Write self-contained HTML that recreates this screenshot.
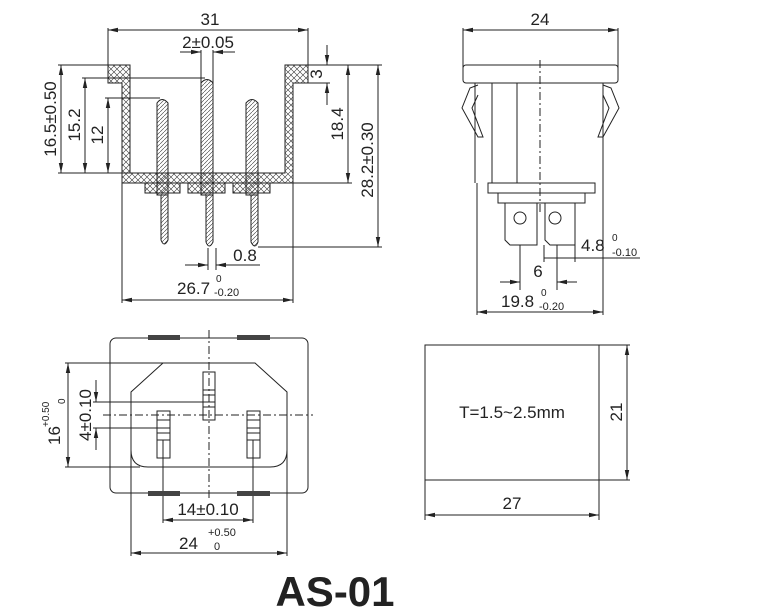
<!DOCTYPE html>
<html><head><meta charset="utf-8"><style>
html,body{margin:0;padding:0;background:#fff;}
svg{display:block;font-family:"Liberation Sans",Arial,sans-serif;}
</style></head><body>
<svg width="771" height="615" viewBox="0 0 771 615" xmlns="http://www.w3.org/2000/svg">
<defs>
<pattern id="xh" width="6" height="6" patternUnits="userSpaceOnUse">
<path d="M0 0L6 6M6 0L0 6" stroke="#333" stroke-width="0.6"/></pattern>
<pattern id="dh" width="4" height="4" patternUnits="userSpaceOnUse">
<path d="M0 4L4 0" stroke="#333" stroke-width="0.6"/></pattern>
<marker id="a" markerWidth="10" markerHeight="6" refX="10" refY="3" orient="auto-start-reverse" markerUnits="userSpaceOnUse">
<path d="M0 0.8L10 3L0 5.2Z" fill="#222"/></marker>
</defs>
<g stroke="#222" stroke-width="1" fill="none">
<line x1="108" y1="28" x2="108" y2="80"/><line x1="308" y1="28" x2="308" y2="80"/>
<line x1="108" y1="30" x2="308" y2="30" marker-start="url(#a)" marker-end="url(#a)"/>
<line x1="201" y1="50" x2="201" y2="180"/><line x1="213" y1="50" x2="213" y2="180"/>
<line x1="180" y1="52" x2="201" y2="52" marker-end="url(#a)"/><line x1="235" y1="52" x2="213" y2="52" marker-end="url(#a)"/>
<path d="M108 65H130V173H285V65H308V83H293V183H122V83H108Z" fill="url(#xh)"/>
<path d="M145 183V193H180V183M188 183V193H225V183M233 183V193H270V183" fill="url(#xh)"/>
<path d="M157 103Q162 96 168 103V195H157Z" fill="url(#dh)"/>
<path d="M161 195H168V240Q164 248 161 240Z" fill="url(#dh)"/>
<path d="M201 83Q207 76 213 83V195H201Z" fill="url(#dh)"/>
<path d="M206 195H213V242Q209 250 206 242Z" fill="url(#dh)"/>
<path d="M246 103Q252 96 258 103V195H246Z" fill="url(#dh)"/>
<path d="M251 195H258V242Q255 250 251 242Z" fill="url(#dh)"/>
<line x1="58" y1="65" x2="108" y2="65"/><line x1="82" y1="78" x2="205" y2="78"/><line x1="105" y1="98" x2="160" y2="98"/>
<line x1="58" y1="173" x2="130" y2="173"/>
<line x1="61" y1="65" x2="61" y2="173" marker-start="url(#a)" marker-end="url(#a)"/>
<line x1="85" y1="78" x2="85" y2="173" marker-start="url(#a)" marker-end="url(#a)"/>
<line x1="108" y1="98" x2="108" y2="173" marker-start="url(#a)" marker-end="url(#a)"/>
<line x1="308" y1="65" x2="382" y2="65"/><line x1="308" y1="83" x2="330" y2="83"/>
<line x1="293" y1="183" x2="352" y2="183"/><line x1="258" y1="247" x2="382" y2="247"/>
<line x1="327" y1="45" x2="327" y2="65" marker-end="url(#a)"/><line x1="327" y1="105" x2="327" y2="83" marker-end="url(#a)"/>
<line x1="348" y1="65" x2="348" y2="183" marker-start="url(#a)" marker-end="url(#a)"/>
<line x1="378" y1="65" x2="378" y2="247" marker-start="url(#a)" marker-end="url(#a)"/>
<line x1="208" y1="248" x2="208" y2="270"/><line x1="216" y1="248" x2="216" y2="270"/>
<line x1="185" y1="265" x2="208" y2="265" marker-end="url(#a)"/><line x1="260" y1="265" x2="216" y2="265" marker-end="url(#a)"/>
<line x1="122" y1="183" x2="122" y2="303"/><line x1="293" y1="183" x2="293" y2="303"/>
<line x1="122" y1="300" x2="293" y2="300" marker-start="url(#a)" marker-end="url(#a)"/>
<line x1="463" y1="28" x2="463" y2="80"/><line x1="618" y1="28" x2="618" y2="80"/>
<line x1="463" y1="30" x2="618" y2="30" marker-start="url(#a)" marker-end="url(#a)"/>
<rect x="463" y="65" width="155" height="18" rx="3"/>
<path d="M475 83V183M603 83V183M492 83V183M517 83V183"/>
<path d="M478 85L470 88L462 108L478 137L483 137L472 108L478 95"/>
<path d="M603 85L611 88L619 108L603 137L598 137L609 108L603 95"/>
<line x1="540" y1="60" x2="540" y2="215" stroke-dasharray="8 3 2 3"/>
<rect x="488" y="183" width="107" height="10"/>
<rect x="498" y="193" width="87" height="10"/>
<path d="M505 203V240L510 245H537V203M545 203V240L550 245H575V203"/>
<circle cx="520" cy="218" r="6"/><circle cx="555" cy="218" r="6"/>
<line x1="520" y1="245" x2="520" y2="290"/><line x1="557" y1="245" x2="557" y2="290"/>
<line x1="500" y1="282" x2="520" y2="282" marker-end="url(#a)"/><line x1="577" y1="282" x2="557" y2="282" marker-end="url(#a)"/>
<line x1="544" y1="245" x2="544" y2="262"/><line x1="575" y1="245" x2="575" y2="262"/>
<line x1="544" y1="258" x2="640" y2="258"/>
<line x1="477" y1="183" x2="477" y2="315"/><line x1="603" y1="183" x2="603" y2="315"/>
<line x1="477" y1="312" x2="603" y2="312" marker-start="url(#a)" marker-end="url(#a)"/>
<rect x="110" y="338" width="198" height="155" rx="6"/>
<path d="M163 363H255L287 392V450Q287 467 270 467H148Q131 467 131 450V392Z"/>
<line x1="209" y1="330" x2="209" y2="500" stroke-dasharray="8 3 2 3"/>
<line x1="103" y1="415" x2="313" y2="415" stroke-dasharray="8 3 2 3"/>
<rect x="203" y="372" width="12" height="48"/><path d="M203 390H215M203 395H215M203 402H215M203 407H215"/>
<rect x="157" y="411" width="13" height="47"/><path d="M157 420H170M157 428H170M157 433H170M157 440H170"/>
<rect x="247" y="411" width="13" height="47"/><path d="M247 420H260M247 428H260M247 433H260M247 440H260"/>
<line x1="65" y1="363" x2="163" y2="363"/><line x1="65" y1="467" x2="140" y2="467"/>
<line x1="68" y1="363" x2="68" y2="467" marker-start="url(#a)" marker-end="url(#a)"/>
<line x1="93" y1="402" x2="203" y2="402"/><line x1="93" y1="428" x2="157" y2="428"/>
<line x1="96" y1="380" x2="96" y2="402" marker-end="url(#a)"/><line x1="96" y1="450" x2="96" y2="428" marker-end="url(#a)"/>
<line x1="163" y1="440" x2="163" y2="523"/><line x1="253" y1="440" x2="253" y2="523"/>
<line x1="163" y1="520" x2="253" y2="520" marker-start="url(#a)" marker-end="url(#a)"/>
<line x1="131" y1="450" x2="131" y2="556"/><line x1="287" y1="450" x2="287" y2="556"/>
<line x1="131" y1="553" x2="287" y2="553" marker-start="url(#a)" marker-end="url(#a)"/>
<rect x="425" y="345" width="174" height="135"/>
<line x1="599" y1="345" x2="630" y2="345"/><line x1="599" y1="480" x2="630" y2="480"/>
<line x1="627" y1="345" x2="627" y2="480" marker-start="url(#a)" marker-end="url(#a)"/>
<line x1="425" y1="480" x2="425" y2="520"/><line x1="599" y1="480" x2="599" y2="520"/>
<line x1="425" y1="515" x2="599" y2="515" marker-start="url(#a)" marker-end="url(#a)"/>
</g>
<g fill="#444">
<rect x="148" y="335" width="32" height="5"/><rect x="237" y="335" width="33" height="5"/>
<rect x="148" y="491" width="32" height="5"/><rect x="237" y="491" width="33" height="5"/>
</g>
<g fill="#222" font-size="17">
<text x="210" y="25" text-anchor="middle">31</text>
<text x="208" y="48" text-anchor="middle">2±0.05</text>
<text transform="translate(56,119) rotate(-90)" text-anchor="middle">16.5±0.50</text>
<text transform="translate(80,125) rotate(-90)" text-anchor="middle">15.2</text>
<text transform="translate(103,135) rotate(-90)" text-anchor="middle">12</text>
<text transform="translate(322,74) rotate(-90)" text-anchor="middle">3</text>
<text transform="translate(343,124) rotate(-90)" text-anchor="middle">18.4</text>
<text transform="translate(373,160) rotate(-90)" text-anchor="middle">28.2±0.30</text>
<text x="245" y="261" text-anchor="middle">0.8</text>
<text x="177" y="294">26.7</text><text x="216" y="282" font-size="10">0</text><text x="214" y="296" font-size="11">-0.20</text>
<text x="540" y="25" text-anchor="middle">24</text>
<text x="538" y="277" text-anchor="middle">6</text>
<text x="581" y="251">4.8</text><text x="612" y="241" font-size="10">0</text><text x="612" y="256" font-size="11">-0.10</text>
<text x="501" y="307">19.8</text><text x="541" y="296" font-size="10">0</text><text x="539" y="310" font-size="11">-0.20</text>
<text transform="translate(60,445) rotate(-90)">16</text>
<text transform="translate(49,427) rotate(-90)" font-size="10">+0.50</text>
<text transform="translate(65,404) rotate(-90)" font-size="10">0</text>
<text transform="translate(91,415) rotate(-90)" text-anchor="middle">4±0.10</text>
<text x="208" y="515" text-anchor="middle">14±0.10</text>
<text x="179" y="549">24</text><text x="208" y="536" font-size="11">+0.50</text><text x="214" y="550" font-size="11">0</text>
<text x="512" y="418" text-anchor="middle">T=1.5~2.5mm</text>
<text transform="translate(622,412) rotate(-90)" text-anchor="middle">21</text>
<text x="512" y="509" text-anchor="middle">27</text>
<text x="335" y="606" text-anchor="middle" font-size="42" font-weight="bold">AS-01</text>
</g>
</svg>
</body></html>
